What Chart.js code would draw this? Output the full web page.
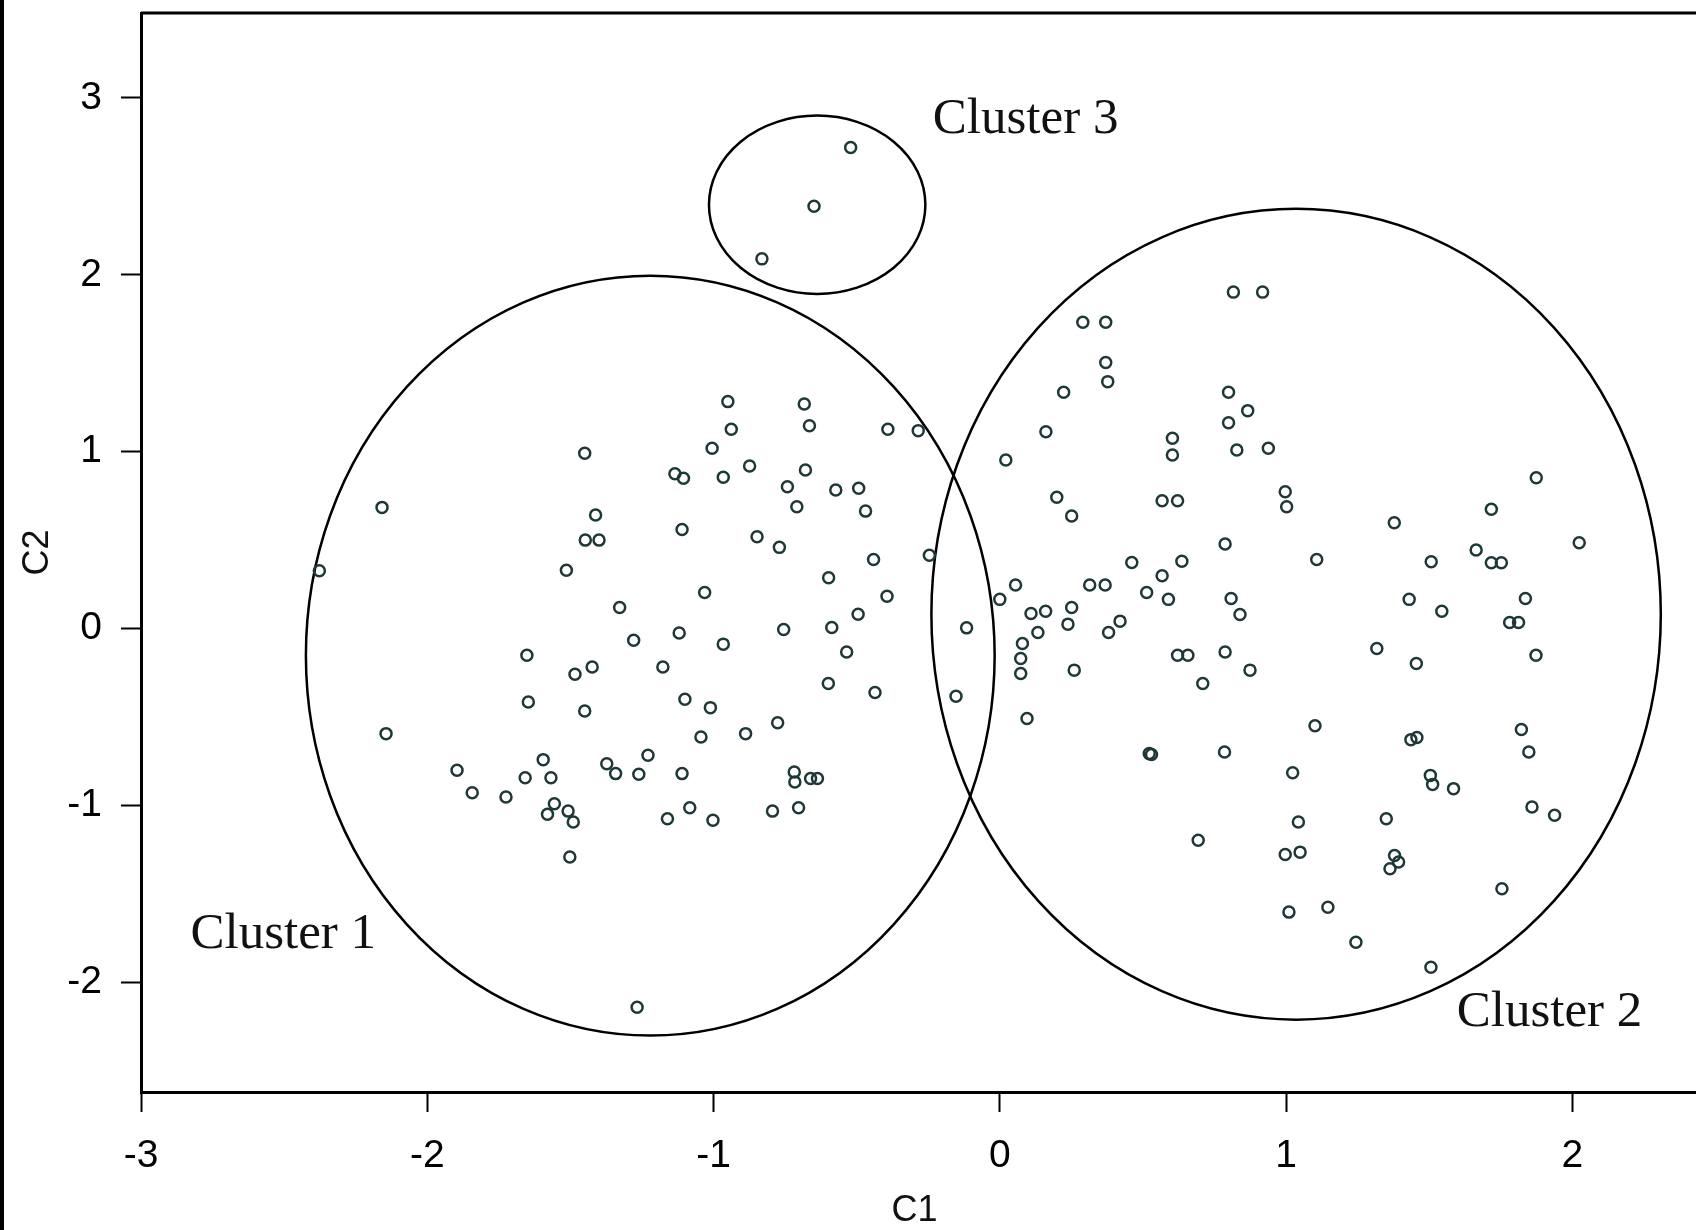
<!DOCTYPE html>
<html>
<head>
<meta charset="utf-8">
<title>Cluster plot C1 / C2</title>
<script src="https://cdn.jsdelivr.net/npm/chart.js@4"></script>
<style>
  html, body { margin: 0; padding: 0; background: #fff; overflow: hidden; }
  #wrap { width: 1696px; height: 1230px; position: relative; }
</style>
</head>
<body>
<div id="wrap"><canvas id="clusterChart" width="1696" height="1230"></canvas></div>
<script>
// points (C1, C2)
const cluster1X = [-2.158, -2.377, -2.144, -1.450, -1.135, -1.105, -1.412, -1.448, -1.400, -1.514,
  -1.328, -1.279, -1.652, -1.424, -1.484, -1.177, -1.647, -1.450, -1.896, -1.843,
  -1.725, -1.595, -1.658, -1.568, -1.556, -1.580, -1.508, -1.490, -1.502, -1.373,
  -1.342, -1.229, -1.261, -1.161, -1.267, -0.950, -0.683, -0.938, -0.665, -0.391,
  -0.285, -1.005, -0.966, -0.874, -0.679, -0.742, -0.573, -0.493, -0.709, -0.469,
  -1.110, -0.848, -0.770, -0.441, -0.246, -0.598, -1.031, -0.394, -0.495, -0.755,
  -0.587, -1.120, -0.116, -0.966, -0.535, -0.599, -0.436, -1.100, -1.011, -0.776,
  -1.044, -0.888, -0.153, -1.110, -0.718, -0.716, -0.661, -0.637, -1.083, -1.002,
  -0.794, -0.703];
const cluster1Y = [0.685, 0.327, -0.594, 0.991, 0.875, 0.850, 0.642, 0.500, 0.500, 0.330,
  0.119, -0.066, -0.151, -0.217, -0.258, -0.217, -0.415, -0.466, -0.801, -0.928,
  -0.952, -0.741, -0.843, -0.843, -0.990, -1.050, -1.032, -1.094, -1.292, -0.764,
  -0.820, -0.716, -0.824, -1.075, -2.141, 1.283, 1.270, 1.127, 1.147, 1.127,
  1.119, 1.019, 0.855, 0.919, 0.896, 0.802, 0.783, 0.793, 0.689, 0.664,
  0.560, 0.519, 0.459, 0.391, 0.415, 0.287, 0.204, 0.183, 0.081, -0.005,
  0.006, -0.025, 0.004, -0.088, -0.132, -0.311, -0.362, -0.400, -0.447, -0.532,
  -0.613, -0.594, -0.383, -0.820, -0.811, -0.867, -0.848, -0.848, -1.013, -1.084,
  -1.032, -1.013];

const cluster2X = [0.290, 0.370, 0.370, 0.377, 0.223, 0.816, 0.918, 0.799, 0.866, 0.799,
  0.828, 0.938, 0.997, 1.002, 0.787, 1.107, 0.808, 0.839, 0.787, 0.874,
  1.101, 0.785, 1.378, 1.717, 1.874, 2.024, 1.664, 1.717, 1.752, 1.507,
  1.430, 1.544, 1.836, 1.781, 1.812, 1.317, 1.455, 1.873, 1.436, 1.457,
  1.822, 1.848, 1.023, 1.504, 1.512, 1.585, 1.859, 1.938, 1.043, 1.350,
  0.997, 1.049, 1.379, 1.363, 1.393, 1.754, 1.010, 1.146, 1.244, 1.506,
  0.161, 0.603, 0.603, 0.021, 0.199, 0.251, 0.567, 0.621, 0.461, 0.636,
  0.567, 0.055, 0.000, 0.314, 0.368, 0.513, 0.589, 0.109, 0.160, 0.251,
  0.238, 0.133, 0.420, 0.380, 0.079, 0.073, 0.073, 0.260, 0.621, 0.657,
  0.709, 0.095, 0.522, 0.530, 0.693];
const cluster2Y = [1.732, 1.732, 1.504, 1.396, 1.336, 1.902, 1.902, 1.336, 1.232, 1.164,
  1.010, 1.019, 0.774, 0.689, 0.478, 0.391, 0.170, 0.080, -0.132, -0.235,
  -0.550, -0.698, 0.598, 0.674, 0.853, 0.485, 0.444, 0.372, 0.372, 0.378,
  0.165, 0.098, 0.170, 0.034, 0.034, -0.113, -0.198, -0.151, -0.628, -0.616,
  -0.571, -0.698, -0.815, -0.830, -0.881, -0.905, -1.009, -1.056, -1.094, -1.075,
  -1.277, -1.264, -1.283, -1.358, -1.320, -1.471, -1.603, -1.575, -1.773, -1.915,
  1.113, 1.076, 0.981, 0.953, 0.742, 0.636, 0.723, 0.723, 0.374, 0.381,
  0.298, 0.246, 0.165, 0.246, 0.246, 0.204, 0.165, 0.085, 0.098, 0.119,
  0.025, -0.022, 0.042, -0.022, -0.084, -0.169, -0.254, -0.235, -0.151, -0.151,
  -0.311, -0.509, -0.707, -0.712, -1.197];

const cluster3X = [-0.521, -0.649, -0.831];
const cluster3Y = [2.720, 2.387, 2.090];

// cluster outlines: centre and half-axes in data units
const circleCx = [-1.221, 1.035, -0.638];
const circleCy = [-0.153, 0.081, 2.396];
const circleRx = [1.203, 1.274, 0.378];
const circleRy = [2.148, 2.292, 0.504];

const labelText = ['Cluster 1', 'Cluster 2', 'Cluster 3'];
const labelX = [-2.827, 1.596, -0.234];
const labelY = [-1.805, -2.245, 2.804];

const xTicks = [-3, -2, -1, 0, 1, 2];
const yTicks = [-2, -1, 0, 1, 2, 3];

function toPoints(xs, ys) {
  return xs.map((v, i) => ({ x: v, y: ys[i] }));
}

const tickFont = { family: '"Liberation Sans", Arial, sans-serif', size: 39 };

const clusterOverlay = {
  id: 'clusterOverlay',
  beforeDraw(chart) {
    const ctx = chart.ctx;
    ctx.save();
    ctx.fillStyle = '#000';
    ctx.fillRect(0, 0, 4, chart.height);
    ctx.restore();
  },
  beforeDatasetsDraw(chart) {
    const { ctx, chartArea: a, scales: { x, y } } = chart;
    ctx.save();
    ctx.strokeStyle = '#000';
    ctx.lineWidth = 3;
    ctx.beginPath();
    ctx.moveTo(a.left, a.top);
    ctx.lineTo(chart.width, a.top);
    // the frame runs off the right edge of the picture
    const by = Math.round(x.top - 1.5) + 1.5;
    ctx.moveTo(a.right - 4, by);
    ctx.lineTo(chart.width, by);
    ctx.stroke();

    ctx.lineWidth = 2.5;
    circleCx.forEach((cx, i) => {
      const px = x.getPixelForValue(cx);
      const py = y.getPixelForValue(circleCy[i]);
      const rx = Math.abs(x.getPixelForValue(cx + circleRx[i]) - px);
      const ry = Math.abs(y.getPixelForValue(circleCy[i] + circleRy[i]) - py);
      ctx.beginPath();
      ctx.ellipse(px, py, rx, ry, 0, 0, Math.PI * 2);
      ctx.stroke();
    });

    ctx.font = '51px "Liberation Serif", "Times New Roman", serif';
    ctx.fillStyle = '#111';
    ctx.textBaseline = 'alphabetic';
    labelText.forEach((t, i) => {
      ctx.fillText(t, x.getPixelForValue(labelX[i]), y.getPixelForValue(labelY[i]));
    });
    ctx.restore();
  }
};

const pointStyle = {
  pointRadius: 5.5,
  pointHoverRadius: 5.5,
  borderWidth: 2.5,
  borderColor: '#1e3838',
  backgroundColor: 'rgba(0,0,0,0)',
  showLine: false
};

new Chart(document.getElementById('clusterChart').getContext('2d'), {
  type: 'scatter',
  data: {
    datasets: [
      Object.assign({ label: 'Cluster 1', data: toPoints(cluster1X, cluster1Y) }, pointStyle),
      Object.assign({ label: 'Cluster 2', data: toPoints(cluster2X, cluster2Y) }, pointStyle),
      Object.assign({ label: 'Cluster 3', data: toPoints(cluster3X, cluster3Y) }, pointStyle)
    ]
  },
  options: {
    responsive: false,
    animation: false,
    devicePixelRatio: 1,
    layout: { padding: { top: 13, left: 0, right: 0, bottom: 0 } },
    plugins: { legend: { display: false }, tooltip: { enabled: false } },
    scales: {
      x: {
        type: 'linear',
        min: -3,
        max: 2.404,
        afterBuildTicks(s) { s.ticks = xTicks.map(v => ({ value: v })); },
        afterFit(s) { s.height = 138; s.paddingLeft = 0; s.paddingRight = 0; },
        ticks: { font: tickFont, color: '#000', padding: 21 },
        grid: { drawOnChartArea: false, drawTicks: true, tickLength: 20, tickWidth: 2, tickColor: '#000' },
        border: { display: true, color: '#000', width: 3 },
        title: { display: true, text: 'C1', color: '#111',
                 font: { family: '"Liberation Sans", Arial, sans-serif', size: 36, lineHeight: 1 },
                 padding: { top: 0, bottom: 1 } }
      },
      y: {
        type: 'linear',
        min: -2.62,
        max: 3.48,
        afterBuildTicks(s) { s.ticks = yTicks.map(v => ({ value: v })); },
        afterFit(s) { s.width = 141; s.paddingTop = 0; s.paddingBottom = 0; },
        ticks: { font: tickFont, color: '#000', padding: 19 },
        grid: { drawOnChartArea: false, drawTicks: true, tickLength: 20, tickWidth: 2, tickColor: '#000' },
        border: { display: true, color: '#000', width: 3 },
        title: { display: true, text: 'C2', color: '#111',
                 font: { family: '"Liberation Sans", Arial, sans-serif', size: 36, lineHeight: 1 },
                 padding: { top: 20, bottom: 0 } }
      }
    }
  },
  plugins: [clusterOverlay]
});
</script>
</body>
</html>
